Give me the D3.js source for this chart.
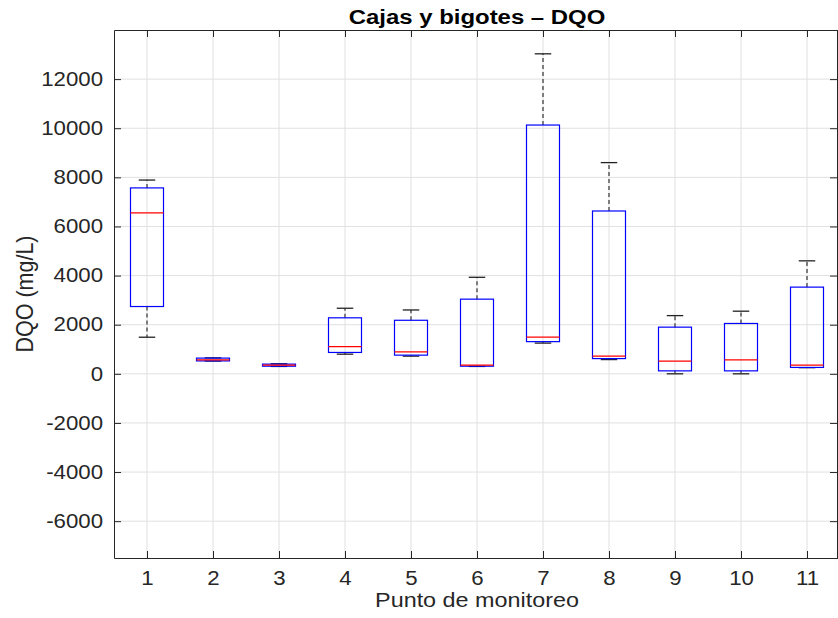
<!DOCTYPE html>
<html>
<head>
<meta charset="utf-8">
<script src="https://cdn.jsdelivr.net/npm/d3@7"></script>
<style>
  body { margin: 0; background: #fff; }
  svg { font-family: "Liberation Sans", Arial, sans-serif; }
</style>
</head>
<body>
<script>
// Punto de monitoreo 1..11
const puntos = [1, 2, 3, 4, 5, 6, 7, 8, 9, 10, 11];
// box statistics (mg/L)
const whiskerLow  = [1490, 520, 300, 800, 720, 300, 1250, 580, 0, 0, 250];
const q1          = [2740, 525, 310, 870, 760, 310, 1310, 620, 120, 120, 260];
const median      = [6550, 570, 350, 1110, 895, 350, 1490, 720, 515, 570, 350];
const q3          = [7570, 640, 395, 2280, 2180, 3040, 10130, 6630, 1900, 2050, 3530];
const whiskerHigh = [7890, 650, 410, 2670, 2600, 3930, 13030, 8600, 2370, 2550, 4600];
const yTicks = [-6000, -4000, -2000, 0, 2000, 4000, 6000, 8000, 10000, 12000];

const width = 838, height = 618;
const margin = { top: 30, right: -2, bottom: 60, left: 114 };
// the original picture is a bit wider than tall, so text is stretched sideways
const stretch = 1.14;

const svg = d3.select('body').append('svg')
  .attr('width', width)
  .attr('height', height);

const x = d3.scaleLinear()
  .domain([0.5, 11.5])
  .range([margin.left, width - margin.right]);

const y = d3.scaleLinear()
  .domain([-7500, 14000])
  .range([height - margin.bottom, margin.top]);

const axisColor = '#262626';
const x0 = x.range()[0], x1 = x.range()[1];
const y0 = y.range()[0], y1 = y.range()[1];

// grid
const grid = svg.append('g');
grid.selectAll('.gx')
  .data(puntos)
  .enter().append('line')
  .attr('x1', d => x(d)).attr('x2', d => x(d))
  .attr('y1', y0).attr('y2', y1)
  .attr('stroke', '#e0e0e0').attr('stroke-width', 1);
grid.selectAll('.gy')
  .data(yTicks)
  .enter().append('line')
  .attr('x1', x0).attr('x2', x1)
  .attr('y1', d => y(d)).attr('y2', d => y(d))
  .attr('stroke', '#e0e0e0').attr('stroke-width', 1);

// axes with inward ticks
const tickLen = 7;
svg.append('g')
  .attr('transform', `translate(0,${y0})`)
  .call(d3.axisBottom(x).tickValues(puntos).tickSizeInner(-tickLen).tickSizeOuter(0))
  .call(g => g.select('.domain').attr('stroke', axisColor))
  .call(g => g.selectAll('.tick line').attr('stroke', axisColor))
  .call(g => g.selectAll('text')
    .attr('fill', axisColor).attr('font-size', 19.5)
    .attr('y', 27).attr('dy', 0)
    .attr('transform', `scale(${stretch},1)`));

svg.append('g')
  .attr('transform', `translate(0,${y1})`)
  .call(d3.axisTop(x).tickValues(puntos).tickSizeInner(-tickLen).tickSizeOuter(0).tickFormat(''))
  .call(g => g.select('.domain').attr('stroke', axisColor))
  .call(g => g.selectAll('.tick line').attr('stroke', axisColor));

svg.append('g')
  .attr('transform', `translate(${x0},0)`)
  .call(d3.axisLeft(y).tickValues(yTicks).tickSizeInner(-tickLen).tickSizeOuter(0).tickFormat(d => String(d)))
  .call(g => g.select('.domain').attr('stroke', axisColor))
  .call(g => g.selectAll('.tick line').attr('stroke', axisColor))
  .call(g => g.selectAll('text')
    .attr('fill', axisColor).attr('font-size', 19.5)
    .attr('x', -11 / stretch)
    .attr('transform', `scale(${stretch},1)`));

svg.append('g')
  .attr('transform', `translate(${x1 - 3},0)`)
  .call(d3.axisRight(y).tickValues(yTicks).tickSizeInner(-tickLen).tickSizeOuter(0).tickFormat(''))
  .call(g => g.select('.domain').attr('stroke', axisColor))
  .call(g => g.selectAll('.tick line').attr('stroke', axisColor));

// boxes
const boxW = x(1.25) - x(1);
const capW = x(1.125) - x(1);
const boxes = svg.append('g')
  .selectAll('.box')
  .data(puntos.map((p, i) => ({ p, lo: whiskerLow[i], q1: q1[i], med: median[i], q3: q3[i], hi: whiskerHigh[i] })))
  .enter().append('g');

boxes.append('line')
  .attr('x1', d => x(d.p)).attr('x2', d => x(d.p))
  .attr('y1', d => y(d.q3)).attr('y2', d => y(d.hi))
  .attr('stroke', '#333').attr('stroke-width', 1.2).attr('stroke-dasharray', '4,3');
boxes.append('line')
  .attr('x1', d => x(d.p)).attr('x2', d => x(d.p))
  .attr('y1', d => y(d.q1)).attr('y2', d => y(d.lo))
  .attr('stroke', '#333').attr('stroke-width', 1.2).attr('stroke-dasharray', '4,3');
boxes.append('line')
  .attr('x1', d => x(d.p) - capW).attr('x2', d => x(d.p) + capW)
  .attr('y1', d => y(d.hi)).attr('y2', d => y(d.hi))
  .attr('stroke', '#222').attr('stroke-width', 1.3);
boxes.append('line')
  .attr('x1', d => x(d.p) - capW).attr('x2', d => x(d.p) + capW)
  .attr('y1', d => y(d.lo)).attr('y2', d => y(d.lo))
  .attr('stroke', '#222').attr('stroke-width', 1.3);
boxes.append('rect')
  .attr('x', d => x(d.p) - boxW)
  .attr('width', boxW * 2)
  .attr('y', d => y(d.q3))
  .attr('height', d => Math.max(1, y(d.q1) - y(d.q3)))
  .attr('fill', 'none')
  .attr('stroke', '#0000ff').attr('stroke-width', 1.2);
boxes.append('line')
  .attr('x1', d => x(d.p) - boxW).attr('x2', d => x(d.p) + boxW)
  .attr('y1', d => y(d.med)).attr('y2', d => y(d.med))
  .attr('stroke', '#ff0000').attr('stroke-width', 1.2);

// labels
svg.append('text')
  .attr('transform', `translate(${(x0 + x1) / 2},24) scale(${stretch},1)`)
  .attr('text-anchor', 'middle')
  .attr('font-size', 21).attr('font-weight', 'bold')
  .attr('fill', '#000')
  .text('Cajas y bigotes – DQO');

svg.append('text')
  .attr('transform', `translate(${(x0 + x1) / 2},607) scale(${stretch},1)`)
  .attr('text-anchor', 'middle')
  .attr('font-size', 20.5)
  .attr('fill', axisColor)
  .text('Punto de monitoreo');

svg.append('text')
  .attr('transform', `translate(33,${(y0 + y1) / 2}) scale(${stretch},1) rotate(-90)`)
  .attr('text-anchor', 'middle')
  .attr('font-size', 21.5)
  .attr('fill', axisColor)
  .text('DQO (mg/L)');
</script>
</body>
</html>
